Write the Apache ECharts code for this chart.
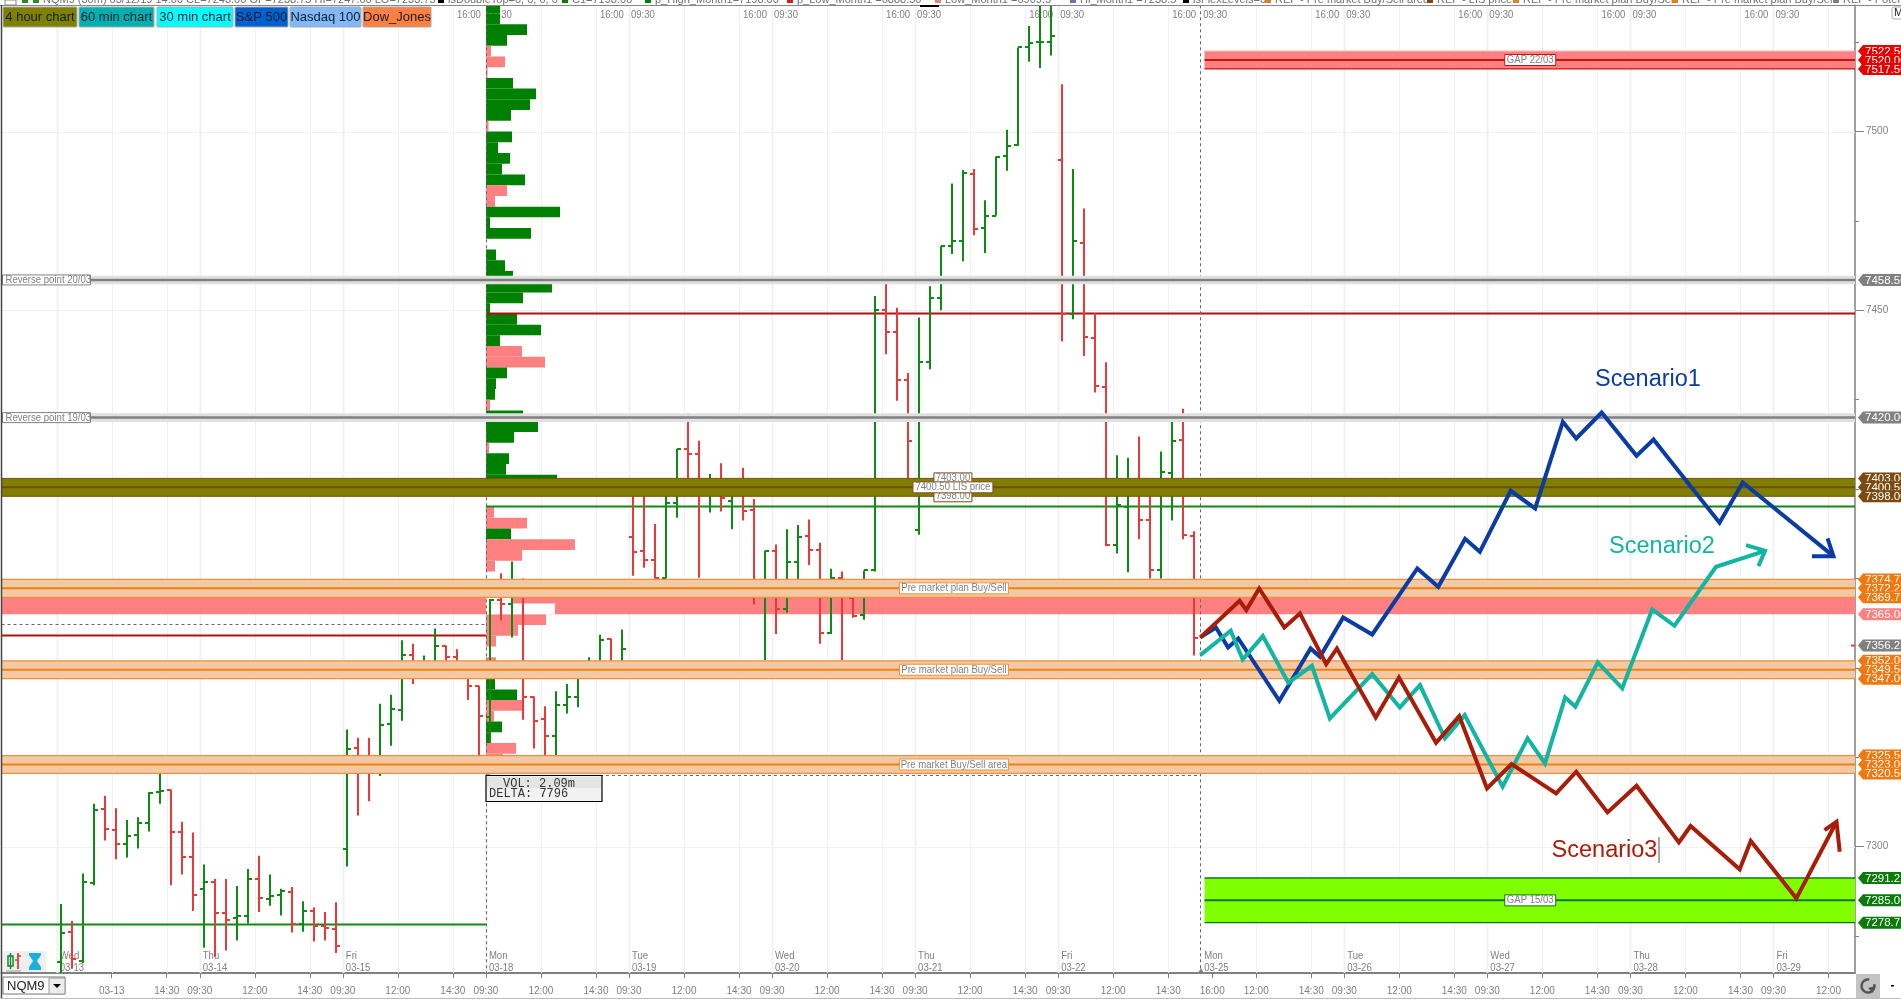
<!DOCTYPE html>
<html>
<head>
<meta charset="utf-8">
<style>html,body{margin:0;padding:0;background:#fff;overflow:hidden}#c{width:1901px;height:999px}</style>
<script src="https://cdn.jsdelivr.net/npm/echarts@6/dist/echarts.min.js"></script>
</head>
<body>
<div id="c"></div>
<script>
// ---------- DATA ----------
const barOpen = [7267.75,7276.25,7268,7289.75,7310.5,7304.75,7300.75,7303.25,7306.5,7315.25,7315.75,7304.25,7297.25,
7288.25,7290,7281.5,7280,7280.75,7291,7285.5,7286.5,7287.25,7278.5,7282,7277.75,7277,
7299.5,7327.5,7322.75,7322,7334.25,7338.25,7353.75,7350.75,7351.25,7356.25,7353,7349.5,7345,
7336.25,7369,7367.75,7372.25,7342,7335.75,7331,7339.5,7341.75,7349.75,7350.75,7358,7350.25,
7386.5,7382.75,7380.25,7375.25,7396,7411.25,7409.75,7398.75,7401.5,7396.75,7400.75,7394.25,7372.5,
7382.75,7366.5,7379.75,7387,7383,7359.75,7375.25,7369.5,7364.75,7377.25,7450,7444,7430.5,
7388.5,7435.5,7453.5,7468,7469.5,7488.25,7473,7476.5,7493.25,7496.25,7523.5,7525,7525,
7492,7449,7468.75,7442.25,7428.5,7384.5,7395,7399.75,7391.25,7377.25,7404.5,7413.75,7387];
const barHigh = [7284,7279.25,7292.5,7312,7314.25,7310.75,7307.5,7308.25,7315.25,7322.5,7316,7307,7304,
7295,7291,7291,7289,7293.75,7297.5,7292.25,7288.25,7288.75,7284.75,7283,7281.75,7284.5,
7332.75,7330.5,7330.5,7340,7342.5,7357.75,7356.75,7353.5,7361,7356.25,7355.25,7350.25,7345,
7369.25,7376.5,7379.75,7375,7342,7339.25,7343.5,7345.5,7350.25,7353,7359.25,7358.25,7360.75,
7402.5,7400.75,7390.25,7400.75,7411.25,7421.25,7413.5,7404.25,7407.25,7402,7406,7397.25,7382.75,
7384.5,7388.75,7390,7391.5,7385,7377.75,7377,7369.75,7377.25,7454,7458.25,7450.75,7432.5,
7448,7456.75,7468,7485.5,7489.25,7489.5,7480.75,7493,7500.5,7523.5,7529.5,7536,7536,
7513.25,7489.5,7478.5,7449.25,7435.5,7409.5,7408.75,7414.75,7402.5,7410.5,7419.5,7422.5,7388.25];
const barLow = [7264.75,7266,7267.5,7289.25,7301.75,7296.5,7297,7299.5,7304.25,7312,7289.25,7292.25,7282,
7271.75,7269.25,7271,7273.75,7278.5,7281.75,7283.5,7280.75,7276,7276.25,7273.5,7273.75,7270.25,
7294.5,7308.75,7312.75,7319.75,7328.25,7335.25,7345.5,7348.5,7350.25,7349.5,7349,7341,7325.25,
7329.25,7363.25,7358.5,7335.5,7327.5,7325.25,7325.25,7337.25,7339,7349,7350.25,7349.5,7349.5,
7375.75,7378,7375,7375,7392,7399.75,7375.25,7393.5,7393.75,7388.75,7391.25,7367.75,7352.25,
7359.5,7365.5,7374.75,7378.75,7356.75,7359.5,7352.25,7364,7363.5,7377,7437.75,7424.75,7399.75,
7387.25,7433.5,7450,7465.75,7463.75,7471,7466,7476.5,7489,7496,7519.5,7517.75,7521.25,
7441.25,7447.5,7437.25,7427,7384,7382,7376.75,7386,7375,7375,7391.25,7386,7353.5];
const barClose = [7276,7268.5,7290,7310.25,7305,7300.75,7303,7306.5,7315,7315.5,7304.25,7297.25,7286.5,
7290,7281.5,7279.5,7280.5,7291,7285.75,7286.25,7287.5,7278.5,7282,7277.75,7277.25,7272.25,
7327.25,7323.25,7322.5,7334,7338.5,7353.5,7349.5,7351.75,7356.25,7353,7349.75,7345,7336.5,
7369,7367.75,7372.25,7342,7335.25,7331,7339.5,7341.75,7349.5,7350.75,7357.75,7350.25,7355.25,
7382.5,7380.25,7375.25,7396,7411.25,7409.75,7400.75,7402.5,7397.5,7401.5,7394,7372.75,7382.75,
7366.5,7379.75,7386.75,7383,7359.75,7375.25,7369.75,7364.5,7377.25,7450,7444,7430.5,7413.5,
7435.5,7453.5,7468,7469.5,7488.5,7472.75,7476.5,7493,7496,7523.5,7524.75,7525,7526.75,
7449,7469.25,7442.5,7428.75,7384.25,7395.5,7399.75,7391.25,7377.25,7404.75,7413.5,7387.25,7358.5];

// Volume profile: one value per 3-point bin, top bin first. Negative = selling.
const profileTopLevel = 7533;
const profileVol = [14,14,41,21,-5,-19,-1.5,27,50,44,25,-2.5,26,12,24,16,39,-21,-9,74,4,45,0,10,19,27,66,37,4,31,55,14,-36,-59,21,10,9,-4,37,52,28,-3,23,20,71,0,0,-8,-41,25,-89,-36,-9,0,0,0,0,-60,-32,-10,0,-10,0,9,31,-37,-8,16,5,-30,-17,-4];
const clearLevel = [7368,7365];
const clearVol = [27,69];

const dayNames = ['Wed','Thu','Fri','Mon','Tue','Wed','Thu','Fri','Mon','Tue','Wed','Thu','Fri'];
const dayDates = ['03-13','03-14','03-15','03-18','03-19','03-20','03-21','03-22','03-25','03-26','03-27','03-28','03-29'];

const xTickBars = [5,10,13,18,23,26,31,36,39,44,49,52,57,62,65,70,75,78,83,88,91,96,101,105,109,114,117,122,127,130,135,140,143,148,153,156,161];
const xTickText = ['03-13','14:30','09:30','12:00','14:30','09:30','12:00','14:30','09:30','12:00','14:30','09:30','12:00','14:30','09:30','12:00','14:30','09:30','12:00','14:30','09:30','12:00','14:30','16:00','12:00','14:30','09:30','12:00','14:30','09:30','12:00','14:30','09:30','12:00','14:30','09:30','12:00'];
const gridBars = [0,5,10,13,18,23,26,31,36,39,44,49,52,57,62,65,70,75,78,83,88,91,96,101,109,114,117,122,127,130,135,140,143,148,153,156,161];
const gridPrices = [7300,7350,7400,7450,7500];
const priceTicksMinor = [7275,7325,7350,7375,7400,7425,7475,7525];
const priceTicksMajor = [7300,7450,7500];

const orangeLow = [7369.75,7347,7320.5];
const orangeMid = [7372.25,7349.5,7323];
const orangeHigh = [7374.75,7352,7325.5];
const orangeText = ['Pre market plan Buy/Sell','Pre market plan Buy/Sell','Pre market Buy/Sell area'];
const lisLow = 7398, lisMid = 7400.5, lisHigh = 7403;
const reversePrice = [7458.5,7420];
const reverseText = ['Reverse point 20/03','Reverse point 19/03'];
const pinkLow = 7365, pinkHigh = 7369.75;
const gapLow = [7517.5,7278.75], gapMid = [7520,7285], gapHigh = [7522.5,7291.25];
const gapText = ['GAP 22/03','GAP 15/03'];

const tagPrice = [7522.5,7520,7517.5,7458.5,7420,7403,7400.5,7398,7374.75,7372.25,7369.75,7365,7356.25,7352,7349.5,7347,7325.5,7323,7320.5,7291.25,7285,7278.75];

const scenario1Time = [103.75,105.17,106.27,107.2,110.93,113.77,114.62,116.73,119.37,123.47,125.37,127.81,129.15,131.95,134.18,136.69,137.91,140.22,143.39,144.93,150.93,153.04,161.28];
const scenario1Price = [7358.53,7361.32,7355.73,7358.25,7340.82,7355.45,7353.12,7364.12,7359.36,7377.82,7372.69,7386.11,7382.48,7399.53,7394.59,7418.82,7414.16,7421.43,7409.31,7413.88,7390.58,7401.86,7381.26];
const scenario1HeadTime = [160.75,161.28,159.33];
const scenario1HeadPrice = [7386.2,7381.26,7381.26];
const scenario2Time = [103.75,106.51,107.6,109.43,111.74,113.89,115.52,119.37,121.88,123.71,125.98,127.77,131.22,133.49,135.07,136.9,137.83,139.86,142.09,144.81,146.84,150.61,155.07];
const scenario2Price = [7353.59,7360.39,7352.37,7358.9,7345.85,7350.6,7335.88,7348.27,7338.96,7345.2,7330.29,7336.81,7316.78,7330.29,7323.3,7341.75,7339.14,7351.54,7344.27,7366.35,7361.79,7378.28,7382.76];
const scenario2HeadTime = [153.33,155.07,154.46];
const scenario2HeadPrice = [7384.34,7382.76,7378.47];
const scenario3Time = [103.75,107.32,107.93,109.1,111.38,112.8,115.19,116.16,119.69,121.8,125.17,127.28,129.8,132.03,136.08,137.91,140.75,143.39,147.24,148.3,152.76,153.77,157.91,161.56];
const scenario3Price = [7358.53,7368.78,7366.17,7372.22,7361.32,7365.24,7351.07,7355.45,7336.16,7347.34,7329.08,7336.53,7316.31,7323.11,7314.91,7320.97,7309.6,7317.06,7301.21,7305.78,7293.67,7301.59,7285.56,7306.99];
const scenario3HeadTime = [160.47,161.56,161.85];
const scenario3HeadPrice = [7304.66,7306.99,7298.6];

const segPrice = [7449.25,7359.2,7278.4,7395.2];
const segFrom = [39,-5.016,-5.016,39];
const segTo = [163.41,39,39,163.41];
const dashPrice = [7362.2,7320];
const dashFrom = [-5.016,39];
const dashTo = [39,103.9];
const dashBars = [39,103.9];
const lastPrice = 7356.25;

const legendItems = [
 [43,'#2a8a2a','NQM9 (30m) 03/12/19 14:00 CL=7243.00 OP=7238.75 HI=7247.00 LO=7233.75'],
 [448,'#000','isDoubleTop=0, 0, 0, 0'],[572,'#0a7a0a','C1=7198.00'],[655,'#0a7a0a','p_High_Month1=7198.00'],
 [797,'#d02020','p_Low_Month1 =6888.50'],[945,'#e88080','Low_Month1 =6909.5'],[1080,'#7070b0','Hi_Month1 =7238.5'],
 [1193,'#000','isFlexLevels=0'],[1275,'#e08020','REF - Pre market Buy/Sell area'],[1437,'#7a4a10','REF - LIS price'],
 [1523,'#e08020','REF - Pre market plan Buy/Sell'],[1682,'#e08020','REF - Pre market plan Buy/Sell'],[1843,'#808080','REF - Potential']];

// ---------- STYLE / LAYOUT ----------
const X_MIN=-5.016, X_MAX=163.41, Y_MIN=7264.69, Y_MAX=7535.3;
const SANS='"Liberation Sans",Arial,sans-serif';
const GREY='#808080';
const GREEN='#0f8a14', RED='#e83a3a';
const rows=a=>a.map((_,i)=>[i]);
const shift=0.17; // scenario readings were taken against a slightly coarser time grid

function crisp(v){return Math.round(v)+0.5;}
function line(x1,y1,x2,y2,stroke,w,dash){return {type:'line',shape:{x1,y1,x2,y2},style:{stroke,lineWidth:w,lineDash:dash||null}};}
function box(x,y,width,height,fill,stroke,w){return {type:'rect',shape:{x,y,width,height},style:{fill,stroke:stroke||null,lineWidth:w||0}};}
function txt(x,y,text,fill,font,align){return {type:'text',style:{x,y,text,fill,font,align:align||'left',verticalAlign:'middle'}};}
// condensed small label: 11px text squeezed horizontally like the terminal's UI font
function small(x,y,text,align){return {type:'text',x,y,scaleX:0.87,style:{x:0,y:0,text,fill:GREY,font:'11px '+SANS,align:align||'left',verticalAlign:'middle'}};}
function labelBox(cx,cy,text,edge,w){
  return {type:'group',children:[box(cx-w/2,cy-5.5,w,11,'#fff',edge,1),small(cx,cy,text,'center')]};
}

const custom=(name,z,n,render,extra)=>Object.assign({type:'custom',name,z,silent:true,clip:true,data:rows(new Array(n).fill(0)),renderItem:render,animation:false},extra||{});

const series=[
 custom('grid',1,1,(p,api)=>{
   const ch=[];
   const top=api.coord([0,Y_MAX])[1],bot=api.coord([0,Y_MIN])[1],l=api.coord([X_MIN,0])[0],r=api.coord([X_MAX,0])[0];
   gridBars.forEach(b=>{const x=crisp(api.coord([b,7300])[0]);ch.push(line(x,top,x,bot,'#f1f1f1',b%13===0?2:1));});
   gridPrices.forEach(v=>{const y=crisp(api.coord([0,v])[1]);ch.push(line(l,y,r,y,'#f1f1f1',1));});
   for(let d=3;d<13;d++){const x=api.coord([d*13,7300])[0];
     ch.push(small(x-17,top+10,'16:00','center'));
     ch.push(small(x+14,top+10,'09:30','center'));}
   dayNames.forEach((t,d)=>{const x=api.coord([d*13,7300])[0]+3;
     ch.push(small(x,bot-17,t));ch.push(small(x,bot-5,dayDates[d]));});
   return {type:'group',children:ch};
 }),
 custom('pinkZone',2,1,(p,api)=>{
   const a=api.coord([X_MIN,pinkHigh]),b=api.coord([X_MAX,pinkLow]);
   return box(a[0],a[1],b[0]-a[0],b[1]-a[1],'#ff8080');
 }),
 custom('profile',3,profileVol.length,(p,api)=>{
   const i=p.dataIndex,v=profileVol[i];if(!v)return null;
   const lv=profileTopLevel-3*i;
   const a=api.coord([0,lv+3]),b=api.coord([Math.abs(v),lv]);
   return box(a[0],a[1],b[0]-a[0],b[1]-a[1],v>0?'#008000':'#ff8080');
 },{xAxisIndex:1}),
 custom('profileClear',3,clearVol.length,(p,api)=>{
   const i=p.dataIndex;const a=api.coord([0,clearLevel[i]+3]),b=api.coord([clearVol[i],clearLevel[i]]);
   return box(a[0],a[1],b[0]-a[0],b[1]-a[1],'#ffffff');
 },{xAxisIndex:1}),
 custom('segments',4,segPrice.length,(p,api)=>{
   const i=p.dataIndex;const a=api.coord([segFrom[i],segPrice[i]]),b=api.coord([segTo[i],segPrice[i]]);
   const col=i<2?'#b01010':'#108a14';
   return line(a[0],crisp(a[1]),b[0],crisp(a[1]),col,2);
 }),
 custom('dashes',4,1,(p,api)=>{
   const ch=[];
   dashPrice.forEach((v,i)=>{const a=api.coord([dashFrom[i],v]),b=api.coord([dashTo[i],v]);ch.push(line(a[0],crisp(a[1]),b[0],crisp(a[1]),'#666',1,[3,3]));});
   dashBars.forEach(t=>{const x=crisp(api.coord([t,7300])[0]);ch.push(line(x,api.coord([t,Y_MAX])[1],x,api.coord([t,Y_MIN])[1],'#666',1,[3,3]));});
   return {type:'group',children:ch};
 }),
 custom('bars',5,barOpen.length,(p,api)=>{
   const k=p.dataIndex,t=k+0.37,col=barClose[k]>=barOpen[k]?GREEN:RED;
   const h=api.coord([t,barHigh[k]]),l=api.coord([t,barLow[k]]),o=api.coord([t,barOpen[k]]),c=api.coord([t,barClose[k]]);
   const x=Math.round(h[0]);
   return {type:'group',children:[
     line(x,h[1],x,l[1],col,2),
     line(x-4,Math.round(o[1]),x,Math.round(o[1]),col,2),
     line(x,Math.round(c[1]),x+4,Math.round(c[1]),col,2)]};
 }),
 custom('reverse',6,reversePrice.length,(p,api)=>{
   const i=p.dataIndex,v=reversePrice[i];
   const a=api.coord([X_MIN,v+1.2]),b=api.coord([X_MAX,v-1.2]),m=api.coord([X_MIN,v]);
   return {type:'group',children:[
     box(a[0],a[1],b[0]-a[0],b[1]-a[1],'#e0e0e0'),
     line(a[0],m[1],b[0],m[1],GREY,2.5),
     box(m[0]+1,m[1]-5,88,10,'#fff',GREY,1),
     small(m[0]+4,m[1]+0.5,reverseText[i])]};
 }),
 custom('orange',6,orangeMid.length,(p,api)=>{
   const i=p.dataIndex;
   const a=api.coord([X_MIN,orangeHigh[i]]),b=api.coord([X_MAX,orangeLow[i]]),m=api.coord([81.53,orangeMid[i]]);
   return {type:'group',children:[
     box(a[0],a[1],b[0]-a[0],b[1]-a[1],'#f3c9a5'),
     line(a[0],a[1],b[0],a[1],'#f0903a',1.3),line(a[0],b[1],b[0],b[1],'#f0903a',1.3),
     line(a[0],m[1],b[0],m[1],'#f08010',2),
     labelBox(m[0],m[1],orangeText[i],'#f0903a',109)]};
 }),
 custom('lis',6,1,(p,api)=>{
   const a=api.coord([X_MIN,lisHigh]),b=api.coord([X_MAX,lisLow]),m=api.coord([81.53,lisMid]);
   return {type:'group',children:[
     box(a[0],a[1],b[0]-a[0],b[1]-a[1],'#808000'),
     line(a[0],a[1],b[0],a[1],'#7a4a10',1),line(a[0],b[1],b[0],b[1],'#7a4a10',1),
     line(a[0],m[1],b[0],m[1],'#7a4a10',2),
     labelBox(m[0]-1,a[1],'7403.00','#7a4a10',38),
     labelBox(m[0]-1,b[1],'7398.00','#7a4a10',38),
     labelBox(m[0]-1,m[1],'7400.50 LIS price','#7a4a10',80)]};
 }),
 custom('gaps',6,gapMid.length,(p,api)=>{
   const i=p.dataIndex,red=i===0;
   const a=api.coord([104.3,gapHigh[i]]),b=api.coord([X_MAX,gapLow[i]]),m=api.coord([133.9,gapMid[i]]);
   const edge=red?'#d01010':'#0a7a0a';
   return {type:'group',children:[
     box(a[0],a[1],b[0]-a[0],b[1]-a[1],red?'#ff8080':'#80ff00'),
     line(a[0],b[1],b[0],b[1],edge,1.3),line(a[0],a[1],b[0],a[1],red?'#ffb0b0':edge,1.3),
     line(a[0],m[1],b[0],m[1],edge,2),
     labelBox(m[0],m[1],gapText[i],edge,51)]};
 }),
 ...[[scenario1Time,scenario1Price,scenario1HeadTime,scenario1HeadPrice,'#0a3ca6'],
     [scenario2Time,scenario2Price,scenario2HeadTime,scenario2HeadPrice,'#12b4a2'],
     [scenario3Time,scenario3Price,scenario3HeadTime,scenario3HeadPrice,'#a81c08']].flatMap(([t,v,ht,hv,c],n)=>[
   {type:'line',name:'Scenario'+(n+1),z:8+n,silent:true,animation:false,showSymbol:false,clip:false,
    data:t.map((x,i)=>[x+shift,v[i]]),lineStyle:{color:c,width:4,join:'miter',miterLimit:10}},
   {type:'line',name:'Head'+(n+1),z:8+n,silent:true,animation:false,showSymbol:false,clip:false,
    data:ht.map((x,i)=>[x+shift,hv[i]]),lineStyle:{color:c,width:4,join:'miter'}}]),
 custom('tags',20,tagPrice.length,(p,api)=>{
   const i=p.dataIndex,v=tagPrice[i],c=api.coord([X_MAX,v]),x=c[0]+3,y=c[1];
   let col=GREY;
   if(v>7500)col='#e60000';else if(v>=7398&&v<=7403)col='#7a4a10';else if(v===7365)col='#ff8080';
   else if(v===lastPrice||v===7458.5||v===7420)col=GREY;else if(v<7300)col='#0a7a0a';else col='#f07810';
   const ch=[{type:'polygon',shape:{points:[[x,y],[x+5,y-6],[x+50,y-6],[x+50,y+6],[x+5,y+6]]},style:{fill:col}},
     txt(x+7,y+0.5,v.toFixed(2),'#fff','11.5px '+SANS)];
   if(v===lastPrice)ch.push(line(x-7,y,x-3,y,'#e83a3a',2));
   return {type:'group',children:ch};
 },{clip:false})
];

// chrome (window furniture, not data)
const buttons=[[3,74,'#808000','4 hour chart'],[79,75,'#00b0b0','60 min chart'],[157,76,'#00ffff','30 min chart'],[235,53,'#0060d0','S&P 500'],[290,71,'#80b8f8','Nasdaq 100'],[363,68,'#ff8040','Dow_Jones']];
const gr=[];
buttons.forEach(b=>{
  gr.push({type:'rect',shape:{x:b[0],y:7,width:b[1],height:20,r:1},style:{fill:b[2],stroke:'#aaa',lineWidth:1},z:50});
  gr.push({type:'text',style:{x:b[0]+b[1]/2,y:17,text:b[3],fill:'#102030',font:'13px '+SANS,align:'center',verticalAlign:'middle'},z:51});
});
legendItems.forEach(l=>{
  gr.push({type:'rect',shape:{x:l[0]-10,y:0,width:6,height:3},style:{fill:l[1]},z:50});
  gr.push({type:'text',style:{x:l[0],y:0,text:l[2],fill:'#707070',font:'11px '+SANS,align:'left',verticalAlign:'middle'},z:50});
});
gr.push({type:'rect',shape:{x:22,y:0,width:6,height:3},style:{fill:'#2a8a2a'},z:50});
gr.push({type:'rect',shape:{x:5,y:0,width:11,height:5},style:{fill:'#fff',stroke:'#888',lineWidth:1},z:50});
gr.push({type:'rect',shape:{x:920,y:5,width:19,height:2},style:{fill:'#000'},z:50});
gr.push({type:'line',shape:{x1:0,y1:5.5,x2:1901,y2:5.5},style:{stroke:'#888',lineWidth:1},z:49});
gr.push({type:'line',shape:{x1:1.5,y1:5,x2:1.5,y2:999},style:{stroke:'#444',lineWidth:1.5},z:49});
gr.push({type:'line',shape:{x1:0,y1:998.5,x2:1901,y2:998.5},style:{stroke:'#bbb',lineWidth:1},z:49});
gr.push({type:'rect',shape:{x:1892,y:7,width:14,height:12,r:2},style:{fill:'#fff',stroke:'#aaa',lineWidth:1},z:50});
gr.push({type:'text',style:{x:1894,y:13,text:'M',fill:'#222',font:'11px '+SANS,verticalAlign:'middle'},z:51});
[['Scenario1',1648,379.5,'#0a3ca6'],['Scenario2',1662,546.5,'#12b4a2'],['Scenario3',1604.5,851,'#a81c08']].forEach(s=>{
  gr.push({type:'text',style:{x:s[1],y:s[2],text:s[0],fill:s[3],font:'23.5px '+SANS,align:'center',verticalAlign:'middle'},z:60});
});
gr.push({type:'line',shape:{x1:1659,y1:837,x2:1659,y2:863},style:{stroke:'#555',lineWidth:1},z:60});
gr.push({type:'rect',shape:{x:486,y:775.5,width:116,height:26},style:{fill:'#f2f2f2',stroke:'#000',lineWidth:1.2},z:55});
gr.push({type:'rect',shape:{x:487,y:777,width:114,height:11},style:{fill:'#e4e4e4'},z:55});
gr.push({type:'text',style:{x:503,y:783.5,text:'VOL: 2.09m',fill:'#333',font:'12px "Liberation Mono",monospace',verticalAlign:'middle'},z:56});
gr.push({type:'text',style:{x:489,y:793.5,text:'DELTA: 7796',fill:'#333',font:'12px "Liberation Mono",monospace',verticalAlign:'middle'},z:56});
gr.push({type:'rect',shape:{x:3,y:951,width:43,height:21},style:{fill:'#efefef'},z:55});
gr.push({type:'rect',shape:{x:8,y:956,width:5,height:10},style:{fill:'#fff',stroke:'#118a2a',lineWidth:1.5},z:56});
gr.push({type:'line',shape:{x1:10.5,y1:953,x2:10.5,y2:969},style:{stroke:'#118a2a',lineWidth:1.5},z:56});
gr.push({type:'line',shape:{x1:18,y1:953,x2:18,y2:969},style:{stroke:'#e83a3a',lineWidth:1.8},z:56});
gr.push({type:'line',shape:{x1:15,y1:960,x2:18,y2:960},style:{stroke:'#e83a3a',lineWidth:1.5},z:56});
gr.push({type:'line',shape:{x1:18,y1:956,x2:21,y2:956},style:{stroke:'#e83a3a',lineWidth:1.5},z:56});
gr.push({type:'line',shape:{x1:6,y1:971,x2:21,y2:971},style:{stroke:'#999',lineWidth:1},z:56});
gr.push({type:'polygon',shape:{points:[[29,953],[41,953],[41,955],[37,961],[41,967],[41,970],[29,970],[29,967],[33,961],[29,955]]},style:{fill:'#18b0dc'},z:56});
gr.push({type:'rect',shape:{x:3,y:977,width:62,height:17},style:{fill:'#fff',stroke:'#777',lineWidth:1},z:55});
gr.push({type:'text',style:{x:7,y:986,text:'NQM9',fill:'#222',font:'13px '+SANS,verticalAlign:'middle'},z:56});
gr.push({type:'rect',shape:{x:49,y:978,width:16,height:16},style:{fill:'#ececec',stroke:'#999',lineWidth:1},z:56});
gr.push({type:'polygon',shape:{points:[[53,984],[61,984],[57,988]]},style:{fill:'#000'},z:57});
gr.push({type:'rect',shape:{x:1856,y:974,width:24,height:24},style:{fill:'#c4c4c4'},z:55});
gr.push({type:'arc',shape:{cx:1868,cy:986,r:6.5,startAngle:-0.3,endAngle:4.9},style:{stroke:'#555',lineWidth:2.5,fill:null},z:56});
gr.push({type:'polygon',shape:{points:[[1868,988],[1875,986],[1873,993]]},style:{fill:'#555'},z:57});
gr.push({type:'rect',shape:{x:1891,y:985,width:3,height:1.5},style:{fill:'#000'},z:56});
gr.push({type:'polygon',shape:{points:[[1198,973],[1204,973],[1201,968]]},style:{fill:'#808080'},z:56});

const chart=echarts.init(document.getElementById('c'),null,{renderer:'canvas',width:1901,height:999});
chart.setOption({
  animation:false,backgroundColor:'#fff',
  grid:{left:1.5,top:5.3,width:1853.5,height:967.7,containLabel:false},
  xAxis:[{type:'value',min:X_MIN,max:X_MAX,position:'bottom',
      axisLine:{show:true,onZero:false,lineStyle:{color:GREY,width:2}},
      axisTick:{show:true,customValues:xTickBars,length:5,lineStyle:{color:GREY,width:1}},
      axisLabel:{show:true,customValues:xTickBars,color:GREY,fontSize:10,fontFamily:SANS,margin:13,
        formatter:v=>xTickText[xTickBars.indexOf(v)]||''},
      splitLine:{show:false}},
    {type:'value',min:-484.5,max:1369,show:false,splitLine:{show:false}}],
  yAxis:[{type:'value',min:Y_MIN,max:Y_MAX,position:'right',
      axisLine:{show:true,onZero:false,lineStyle:{color:GREY,width:1.5}},
      axisTick:{show:true,customValues:priceTicksMinor,length:4,lineStyle:{color:GREY}},
      axisLabel:{show:false},splitLine:{show:false}},
    {type:'value',min:Y_MIN,max:Y_MAX,position:'right',
      axisLine:{show:false,onZero:false},
      axisTick:{show:true,customValues:priceTicksMajor,length:9,lineStyle:{color:GREY}},
      axisLabel:{show:true,customValues:priceTicksMajor,color:GREY,fontSize:10,fontFamily:SANS,margin:11,padding:[0,0,12,0],formatter:v=>String(v)},
      splitLine:{show:false}}],
  series,
  graphic:{elements:gr}
});
</script>
</body>
</html>
